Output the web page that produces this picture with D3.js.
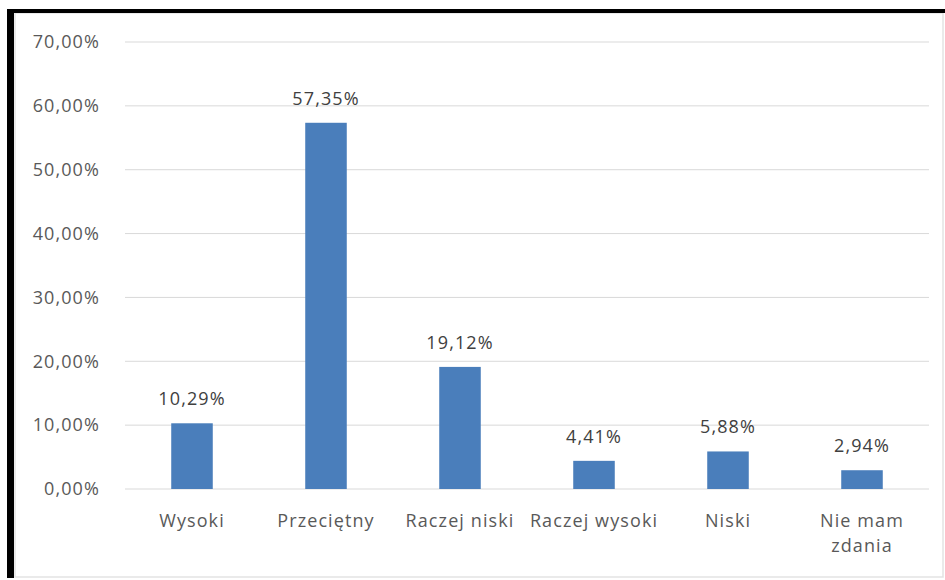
<!DOCTYPE html>
<html>
<head>
<meta charset="utf-8">
<script src="https://cdn.jsdelivr.net/npm/d3@7"></script>
<style>
  body { margin: 0; background: #fff; }
  svg { display: block; }
  text { font-family: "Open Sans", sans-serif; }
</style>
</head>
<body>
<script>
// chart data
const categories = ['Wysoki', 'Przeciętny', 'Raczej niski', 'Raczej wysoki', 'Niski', 'Nie mam zdania'];
const values = [10.29, 57.35, 19.12, 4.41, 5.88, 2.94];
const yTicks = [0, 10, 20, 30, 40, 50, 60, 70];

const width = 945;
const height = 580;
const margin = { top: 42, right: 16, bottom: 91, left: 125 };

const fmt = v => v.toFixed(2).replace('.', ',') + '%';

const svg = d3.select('body')
  .append('svg')
  .attr('width', width)
  .attr('height', height);

// outer frame
svg.append('rect')
  .attr('x', 15).attr('y', 13)
  .attr('width', width - 17).attr('height', 564)
  .attr('fill', 'none')
  .attr('stroke', '#e3e3e3')
  .attr('stroke-width', 1.5);
svg.append('rect')
  .attr('x', 7).attr('y', 9)
  .attr('width', 7).attr('height', 569)
  .attr('fill', '#000');
svg.append('rect')
  .attr('x', 7).attr('y', 9)
  .attr('width', width - 7).attr('height', 4)
  .attr('fill', '#000');

const x = d3.scaleBand()
  .domain(categories)
  .range([margin.left, width - margin.right])
  .paddingInner(0.69)
  .paddingOuter(0.345);

const y = d3.scaleLinear()
  .domain([0, 70])
  .range([height - margin.bottom, margin.top]);

// gridlines
svg.append('g')
  .selectAll('line')
  .data(yTicks)
  .enter().append('line')
    .attr('x1', margin.left)
    .attr('x2', width - margin.right)
    .attr('y1', d => y(d))
    .attr('y2', d => y(d))
    .attr('stroke', '#d9d9d9')
    .attr('stroke-width', 1);

// y labels
svg.append('g')
  .selectAll('text')
  .data(yTicks)
  .enter().append('text')
    .attr('x', 100)
    .attr('y', d => y(d))
    .attr('dy', '0.35em')
    .attr('text-anchor', 'end')
    .attr('fill', '#595959')
    .attr('font-size', 18)
    .attr('letter-spacing', 1.1)
    .text(d => fmt(d));

// bars
svg.append('g')
  .selectAll('rect')
  .data(values)
  .enter().append('rect')
    .attr('x', (d, i) => x(categories[i]))
    .attr('y', d => y(d))
    .attr('width', x.bandwidth())
    .attr('height', d => y(0) - y(d))
    .attr('fill', '#4a7ebb');

// value labels
svg.append('g')
  .selectAll('text')
  .data(values)
  .enter().append('text')
    .attr('x', (d, i) => x(categories[i]) + x.bandwidth() / 2)
    .attr('y', d => y(d) - 18)
    .attr('text-anchor', 'middle')
    .attr('fill', '#404040')
    .attr('font-size', 18)
    .attr('letter-spacing', 1.1)
    .text(d => fmt(d));

// category labels
const catLines = { 'Nie mam zdania': ['Nie mam', 'zdania'] };
const catG = svg.append('g')
  .selectAll('text')
  .data(categories)
  .enter().append('text')
    .attr('x', d => x(d) + x.bandwidth() / 2)
    .attr('y', y(0) + 38)
    .attr('text-anchor', 'middle')
    .attr('fill', '#595959')
    .attr('font-size', 18)
    .attr('letter-spacing', 1.1);

catG.each(function (d) {
  const lines = catLines[d] || [d];
  const t = d3.select(this);
  lines.forEach((line, i) => {
    t.append('tspan')
      .attr('x', x(d) + x.bandwidth() / 2)
      .attr('dy', i === 0 ? 0 : 25)
      .text(line);
  });
});
</script>
</body>
</html>
